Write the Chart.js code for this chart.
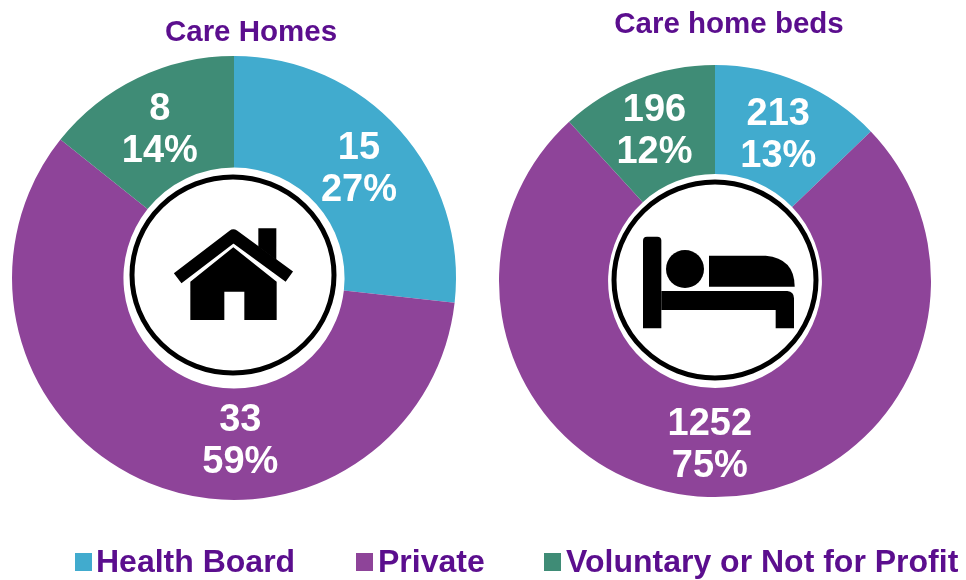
<!DOCTYPE html>
<html><head><meta charset="utf-8">
<script src="https://cdn.jsdelivr.net/npm/chart.js@4"></script>
<style>
html,body{margin:0;padding:0;background:#fff;width:966px;height:580px;overflow:hidden}
canvas{position:absolute;top:0}
#legend{position:absolute;left:0;top:0;width:966px;height:580px;font:bold 32px "Liberation Sans",Arial,sans-serif;color:#5B0E8E}
.sw{position:absolute;top:553px;width:17px;height:18px}
.lb{position:absolute;top:543px;line-height:36px;white-space:nowrap}
</style></head><body>
<canvas id="c1" width="483" height="580" style="left:0;width:483px;height:580px"></canvas>
<canvas id="c2" width="483" height="580" style="left:483px;width:483px;height:580px"></canvas>
<div id="legend"></div>
<script>
const categories = ["Health Board", "Private", "Voluntary or Not for Profit"];
const careHomes = [15, 33, 8];
const careHomesPct = ["27%", "59%", "14%"];
const careBeds = [213, 1252, 196];
const careBedsPct = ["13%", "75%", "12%"];
const colors = ["#41ABCE", "#8E4499", "#3F8C76"];
const titleColor = "#5B0E8E";

function drawHouse(ctx, cx, cy) {
  const s = 1/3, ox = 339, oy = 354;
  const X = v => cx + (v - ox) * s, Y = v => cy + (v - oy) * s;
  ctx.fillStyle = "#000"; ctx.strokeStyle = "#000";
  ctx.beginPath();
  ctx.moveTo(X(412),Y(205)); ctx.lineTo(X(466),Y(205)); ctx.lineTo(X(466),Y(300)); ctx.lineTo(X(412),Y(260));
  ctx.closePath(); ctx.fill();
  ctx.beginPath(); ctx.lineWidth = 12.5; ctx.lineCap = "butt"; ctx.lineJoin = "round";
  ctx.moveTo(X(170),Y(355)); ctx.lineTo(X(337),Y(227)); ctx.lineTo(X(505),Y(350)); ctx.stroke();
  ctx.beginPath();
  ctx.moveTo(X(208),Y(365)); ctx.lineTo(X(337),Y(262)); ctx.lineTo(X(467),Y(365));
  ctx.lineTo(X(467),Y(480)); ctx.lineTo(X(370),Y(480)); ctx.lineTo(X(370),Y(395));
  ctx.lineTo(X(310),Y(395)); ctx.lineTo(X(310),Y(480)); ctx.lineTo(X(208),Y(480));
  ctx.closePath(); ctx.fill();
}
function drawBed(ctx, cx, cy) {
  const s = 1/3, ox = 348, oy = 348;
  const X = v => cx + (v - ox) * s, Y = v => cy + (v - oy) * s;
  ctx.fillStyle = "#000";
  ctx.beginPath(); ctx.roundRect(X(132),Y(215),55*s,275*s,[4,4,0,0]); ctx.fill();
  ctx.beginPath();
  ctx.moveTo(X(187),Y(378)); ctx.lineTo(X(565),Y(378)); ctx.quadraticCurveTo(X(585),Y(380),X(585),Y(400));
  ctx.lineTo(X(585),Y(490)); ctx.lineTo(X(530),Y(490)); ctx.lineTo(X(530),Y(435)); ctx.lineTo(X(187),Y(435));
  ctx.closePath(); ctx.fill();
  ctx.beginPath(); ctx.arc(X(258),Y(312),57*s,0,Math.PI*2); ctx.fill();
  ctx.beginPath();
  ctx.moveTo(X(330),Y(272)); ctx.lineTo(X(500),Y(272)); ctx.quadraticCurveTo(X(587),Y(280),X(587),Y(365));
  ctx.lineTo(X(330),Y(365)); ctx.closePath(); ctx.fill();
}

const decorPlugin = {
  id: "decor",
  afterLayout(chart, args, o) {
    chart.titleBlock.left += o.titleShift; chart.titleBlock.right += o.titleShift;
  },
  afterDatasetsDraw(chart, args, o) {
    const ctx = chart.ctx, arc0 = chart.getDatasetMeta(0).data[0];
    const cx = arc0.x, cy = arc0.y;
    ctx.save();
    ctx.beginPath(); ctx.ellipse(cx + o.ringDx, cy + o.ringDy, o.ringRx, o.ringRy, 0, 0, Math.PI*2);
    ctx.lineWidth = 5; ctx.strokeStyle = "#000"; ctx.stroke();
    o.icon(ctx, cx, cy);
    const meta = chart.getDatasetMeta(0);
    ctx.fillStyle = "#fff"; ctx.textAlign = "center"; ctx.textBaseline = "middle";
    ctx.font = 'bold 38px "Liberation Sans",Arial,sans-serif';
    meta.data.forEach((a, i) => {
      const p = a.getCenterPoint();
      const off = o.labelShift[i];
      ctx.fillText(String(chart.data.datasets[0].data[i]), p.x + off[0], p.y + off[1] - 21);
      ctx.fillText(o.pct[i], p.x + off[0], p.y + off[1] + 21);
    });
    ctx.restore();
  }
};

function makeChart(id, title, values, pct, icon, cfg) {
  return new Chart(document.getElementById(id), {
    type: "doughnut",
    plugins: [decorPlugin],
    data: { labels: categories, datasets: [{ data: values, backgroundColor: colors, borderWidth: 0, hoverOffset: 0 }] },
    options: {
      responsive: false, animation: false, cutout: cfg.cutout,
      layout: { padding: cfg.padding },
      plugins: {
        legend: { display: false }, tooltip: { enabled: false },
        title: { display: true, text: title, color: titleColor,
                 font: { family: '"Liberation Sans",Arial,sans-serif', size: 29.5, weight: "bold", lineHeight: 1.2 },
                 padding: cfg.titlePadding },
        decor: { icon, pct, titleShift: cfg.titleShift, ringRx: cfg.ringRx, ringRy: cfg.ringRy,
                 ringDx: cfg.ringDx, ringDy: cfg.ringDy, labelShift: cfg.labelShift }
      }
    }
  });
}
makeChart("c1", "Care Homes", careHomes, careHomesPct, drawHouse, {
  cutout: "49.8%", padding: { left: 12, right: 27, top: 0, bottom: 80 },
  titlePadding: { top: 15.3, bottom: 5.3 }, titleShift: 17,
  ringRx: 101, ringRy: 98, ringDx: -1, ringDy: -3,
  labelShift: [[1, 2], [70, 10], [-2, 2]]
});
makeChart("c2", "Care home beds", careBeds, careBedsPct, drawBed, {
  cutout: "49.5%", padding: { left: 16, right: 35, top: 0, bottom: 83 },
  titlePadding: { top: 7.3, bottom: 22.3 }, titleShift: 14,
  ringRx: 101, ringRy: 98, ringDx: 0, ringDy: -1,
  labelShift: [[0, 3], [0, 3], [-2, 1]]
});

const lg = document.getElementById("legend");
const swX = [75, 356, 544], lbX = [96, 378, 566];
categories.forEach((c, i) => {
  const s = document.createElement("div"); s.className = "sw"; s.style.left = swX[i] + "px"; s.style.background = colors[i]; lg.appendChild(s);
  const t = document.createElement("div"); t.className = "lb"; t.style.left = lbX[i] + "px"; t.textContent = c; lg.appendChild(t);
});
</script>
</body></html>
